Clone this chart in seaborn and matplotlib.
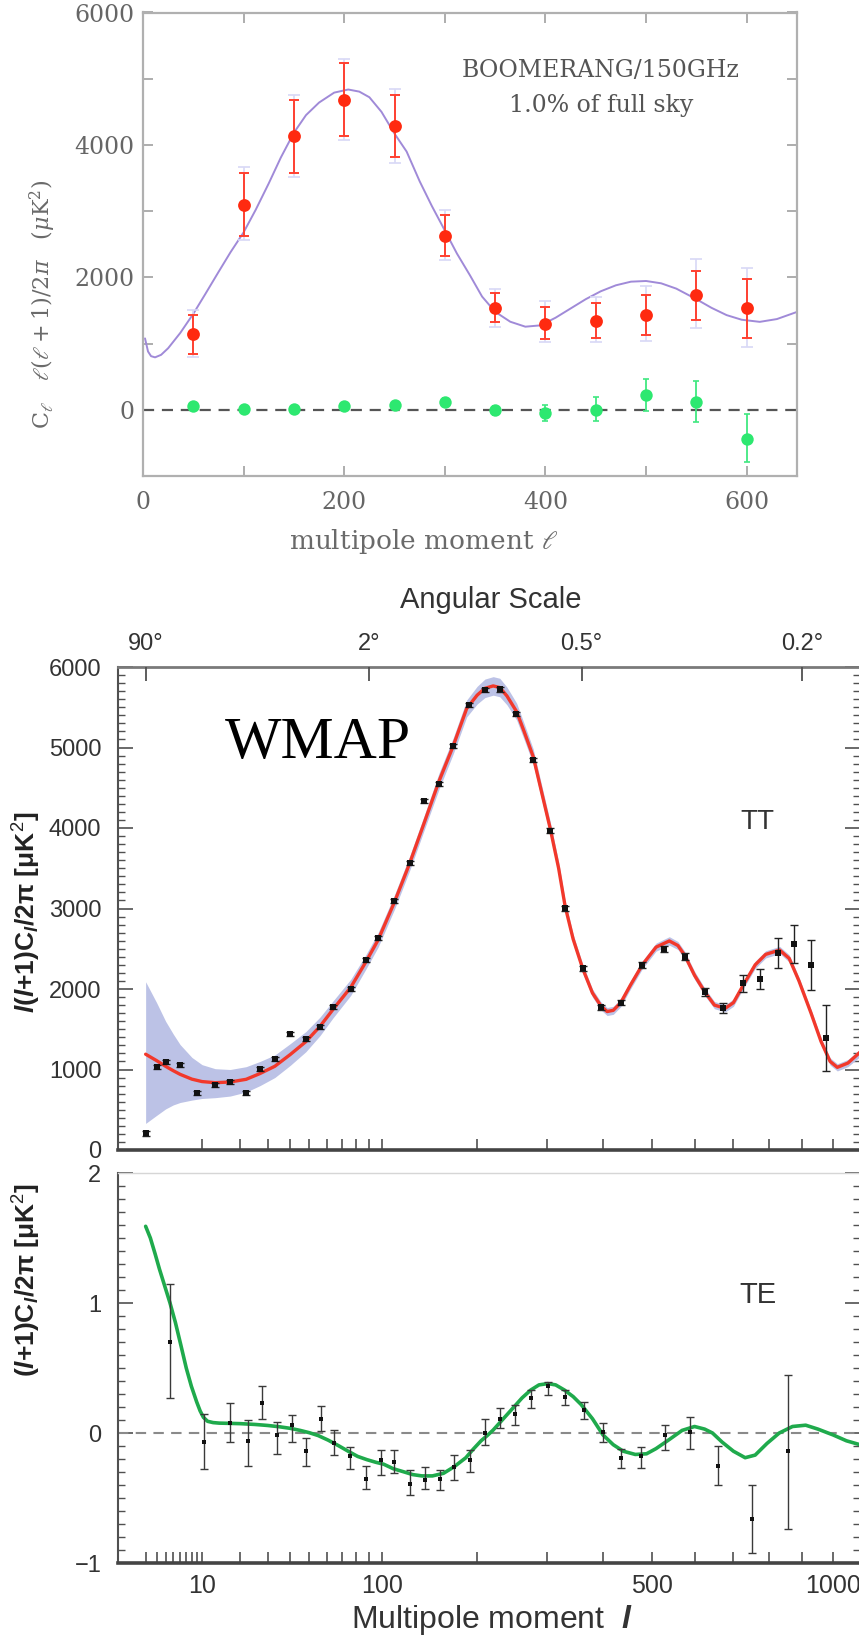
import numpy as np
import matplotlib
matplotlib.use("Agg")
import matplotlib.pyplot as plt
import seaborn as sns
from matplotlib.ticker import FixedLocator, NullFormatter, FixedFormatter

# ---------------- data: BOOMERANG panel ----------------
boom_l = [50, 100, 150, 200, 250, 300, 350, 400, 450, 500, 550, 600]
boom_tt = [1140, 3100, 4140, 4680, 4290, 2630, 1540, 1300, 1340, 1430, 1740, 1530]
boom_tt_lo = [840, 2620, 3570, 4135, 3820, 2320, 1330, 1070, 1080, 1130, 1350, 1080]
boom_tt_hi = [1430, 3580, 4680, 5230, 4750, 2940, 1770, 1550, 1610, 1740, 2100, 1970]
boom_tt_lo2 = [800, 2560, 3520, 4070, 3720, 2256, 1253, 1027, 1027, 1042, 1228, 952]
boom_tt_hi2 = [1500, 3660, 4760, 5300, 4840, 3020, 1830, 1640, 1700, 1865, 2270, 2135]
boom_ee = [60, 10, 10, 60, 70, 125, -10, -50, -10, 225, 125, -440]
boom_ee_lo = [10, -30, -30, 20, 20, 70, -80, -175, -175, -25, -190, -790]
boom_ee_hi = [110, 50, 50, 100, 120, 180, 60, 75, 190, 460, 440, -60]
boom_model_l = [2, 5, 8, 12, 18, 25, 37, 50, 62, 75, 87, 100, 112, 125, 137, 150, 162, 175, 190,
                204, 215, 225, 237, 250, 262, 275, 287, 300, 312, 325, 337, 350, 365, 380, 395,
                410, 425, 440, 455, 470, 485, 500, 515, 530, 550, 565, 580, 595, 613, 630, 650]
boom_model_v = [1078, 880, 810, 792, 830, 930, 1160, 1450, 1750, 2080, 2380, 2680, 3020, 3420,
                3810, 4185, 4450, 4640, 4790, 4837, 4805, 4720, 4500, 4170, 3900, 3450, 3080,
                2707, 2360, 2030, 1710, 1480, 1330, 1255, 1275, 1390, 1530, 1670, 1790, 1880,
                1935, 1945, 1910, 1830, 1670, 1540, 1430, 1360, 1328, 1370, 1478]

# ---------------- data: WMAP TT panel ----------------
tt_model_l = [2, 3, 4, 5, 6, 8, 10, 13, 17, 22, 27, 33, 40, 48, 56, 64, 76, 87, 97, 111, 125, 139,
              155, 171, 187, 200, 210, 221, 230, 240, 254, 265, 279, 292, 306, 320, 331, 345, 362,
              380, 396, 408, 420, 435, 455, 480, 510, 540, 560, 576, 600, 625, 650, 678, 700, 727,
              760, 790, 831, 860, 890, 928, 960, 990, 1014, 1050, 1092]
tt_model_v = [1190, 1110, 1040, 985, 940, 880, 850, 836, 845, 878, 950, 1040, 1185, 1345, 1535,
              1745, 2020, 2330, 2610, 3080, 3560, 4050, 4580, 5020, 5485, 5650, 5735, 5765, 5745,
              5640, 5445, 5200, 4885, 4450, 3995, 3500, 3030, 2620, 2255, 1950, 1790, 1720, 1735,
              1830, 2050, 2300, 2520, 2597, 2540, 2420, 2170, 1967, 1800, 1760, 1830, 2050, 2300,
              2430, 2484, 2380, 2100, 1700, 1350, 1100, 1027, 1080, 1215]
band_lo = [330, 430, 510, 560, 590, 620, 640, 650, 670, 720, 800, 900, 1050, 1220, 1420, 1640,
           1920, 2240, 2520, 2990, 3470, 3960, 4480, 4920, 5380, 5540, 5620, 5650, 5630, 5530,
           5340, 5100, 4790, 4360, 3910, 3420, 2960, 2560, 2200, 1900, 1740, 1670, 1685, 1780,
           2000, 2250, 2470, 2545, 2490, 2370, 2120, 1920, 1755, 1715, 1785, 2005, 2255, 2385,
           2440, 2335, 2055, 1655, 1305, 1055, 982, 1035, 1160]
band_hi = [2090, 1830, 1600, 1440, 1310, 1150, 1060, 1010, 1000, 1035, 1100, 1180, 1320, 1470,
           1650, 1850, 2120, 2420, 2700, 3170, 3650, 4140, 4680, 5120, 5590, 5760, 5850, 5880,
           5860, 5750, 5550, 5300, 4980, 4540, 4080, 3580, 3100, 2680, 2310, 2000, 1840, 1770,
           1785, 1880, 2100, 2350, 2570, 2650, 2590, 2470, 2220, 2015, 1845, 1805, 1875, 2095,
           2345, 2475, 2530, 2425, 2145, 1745, 1395, 1145, 1072, 1125, 1250]
tt_l = [2, 3, 4, 6, 9, 13, 17, 22, 27, 33, 40, 48, 56, 64, 76, 87, 97, 111, 125, 139, 155, 171,
        190, 210, 230, 253, 278, 305, 331, 362, 396, 435, 480, 527, 576, 625, 673, 727, 774, 826,
        876, 928, 977]
tt_v = [207, 1035, 1097, 1056, 712, 807, 849, 704, 1002, 1126, 1441, 1375, 1532, 1780, 1996, 2360,
        2630, 3097, 3561, 4339, 4547, 5023, 5528, 5714, 5723, 5416, 4845, 3967, 3002, 2257, 1772,
        1830, 2298, 2493, 2401, 1967, 1760, 2071, 2120, 2443, 2559, 2298, 1387]
tt_err = [30, 25, 25, 25, 25, 25, 25, 25, 25, 25, 25, 25, 25, 25, 25, 25, 25, 25, 25, 25, 25, 25,
          30, 30, 30, 30, 30, 30, 30, 30, 30, 30, 35, 35, 40, 50, 60, 105, 125, 185, 235, 310, 410]

# ---------------- data: WMAP TE panel ----------------
te_model_l = [2, 2.4, 2.84, 3.3, 3.9, 4.56, 5.3, 6.1, 7.0, 7.9, 8.9, 9.6, 10.3, 11.2, 12.5, 14,
              17, 20, 25, 30, 35, 40, 45, 50, 55, 61, 68, 75, 81, 88, 95, 101.6, 110, 120, 128,
              137, 148, 160, 172, 186, 195, 205, 213, 221, 235, 250, 262, 275, 288, 302, 315,
              330, 345, 359, 380, 400, 420, 440, 465, 489, 510, 540, 570, 600, 625, 645, 670,
              700, 732, 760, 794, 830, 870, 911, 950, 1000, 1045, 1092]
te_model_v = [1.59, 1.50, 1.38, 1.26, 1.13, 1.0, 0.85, 0.68, 0.50, 0.36, 0.24, 0.17, 0.12, 0.09,
              0.08, 0.076, 0.074, 0.072, 0.066, 0.058, 0.048, 0.036, 0.02, 0.002, -0.02, -0.055,
              -0.10, -0.145, -0.18, -0.205, -0.225, -0.24, -0.275, -0.30, -0.32, -0.33, -0.33,
              -0.31, -0.26, -0.19, -0.125, -0.06, -0.02, 0.023, 0.11, 0.2, 0.27, 0.33, 0.37,
              0.38, 0.37, 0.33, 0.28, 0.22, 0.11, -0.015, -0.09, -0.14, -0.165, -0.16, -0.12,
              -0.05, 0.02, 0.05, 0.03, 0.0, -0.07, -0.14, -0.19, -0.17, -0.08, 0.0, 0.05, 0.06,
              0.03, -0.015, -0.06, -0.09]
te_l = [4.5, 10.4, 17, 22.5, 27.7, 33.8, 40.7, 48, 56.4, 64.8, 75.2, 87, 99.3, 111, 125.3, 140,
        155.6, 171.6, 191, 210, 230, 252, 276, 302, 330, 364, 400, 435, 477, 530, 588, 659, 752,
        855]
te_v = [0.70, -0.07, 0.075, -0.06, 0.23, -0.015, 0.06, -0.14, 0.11, -0.08, -0.18, -0.35, -0.21,
        -0.22, -0.39, -0.36, -0.35, -0.26, -0.21, 0.0, 0.11, 0.15, 0.27, 0.36, 0.28, 0.18, 0.01,
        -0.195, -0.18, -0.015, 0.01, -0.25, -0.66, -0.14]
te_lo = [0.27, -0.28, -0.07, -0.25, 0.105, -0.16, -0.067, -0.25, 0.018, -0.17, -0.28, -0.43,
         -0.32, -0.305, -0.48, -0.43, -0.44, -0.36, -0.30, -0.09, 0.036, 0.06, 0.19, 0.29, 0.215,
         0.11, -0.07, -0.27, -0.27, -0.13, -0.12, -0.40, -0.925, -0.74]
te_hi = [1.15, 0.15, 0.23, 0.10, 0.36, 0.087, 0.14, -0.04, 0.21, 0.023, -0.105, -0.25, -0.13,
         -0.13, -0.285, -0.26, -0.285, -0.17, -0.13, 0.11, 0.19, 0.215, 0.33, 0.39, 0.33, 0.24,
         0.08, -0.12, -0.105, 0.06, 0.12, -0.10, -0.40, 0.45]

ang_l = [2, 90, 360, 900]
ang_labels = ["90°", "2°", "0.5°", "0.2°"]

# ---------------- style ----------------
sns.set_theme(style="ticks")
plt.rcParams['font.family'] = ['Liberation Sans', 'DejaVu Sans']
plt.rcParams['mathtext.fontset'] = 'custom'
plt.rcParams['mathtext.rm'] = 'Liberation Sans'
plt.rcParams['mathtext.it'] = 'Liberation Sans:italic:bold'
plt.rcParams['mathtext.bf'] = 'Liberation Sans:bold'
plt.rcParams['axes.unicode_minus'] = True

W, H = 859, 1641
fig = plt.figure(figsize=(W / 100, H / 100), dpi=100)
fig.patch.set_facecolor('white')


def rect(x0, y0, x1, y1):
    return [x0 / W, 1 - y1 / H, (x1 - x0) / W, (y1 - y0) / H]


def arr(a):
    return np.asarray(a, dtype=float)


# ================= BOOMERANG =================
axB = fig.add_axes(rect(143, 12.5, 797, 476))
sns.lineplot(x=boom_model_l, y=boom_model_v, ax=axB, color='#a08ad8', lw=1.4,
             sort=False, estimator=None, zorder=2)
axB.axhline(0, color='#555555', lw=1.6, ls=(0, (5, 3.5)), zorder=1)
bt = arr(boom_tt)
axB.errorbar(boom_l, bt, yerr=[bt - arr(boom_tt_lo2), arr(boom_tt_hi2) - bt], fmt='none',
             ecolor='#d8d8f6', elinewidth=1.2, capsize=4, capthick=1.2, zorder=3)
axB.errorbar(boom_l, bt, yerr=[bt - arr(boom_tt_lo), arr(boom_tt_hi) - bt], fmt='none',
             ecolor='#ff4030', elinewidth=1.4, capsize=3.5, capthick=1.4, zorder=4)
sns.scatterplot(x=boom_l, y=boom_tt, ax=axB, color='#ff2a10', s=85, linewidth=0, zorder=5)
be = arr(boom_ee)
axB.errorbar(boom_l, be, yerr=[be - arr(boom_ee_lo), arr(boom_ee_hi) - be], fmt='none',
             ecolor='#40e880', elinewidth=1.3, capsize=2.5, capthick=1.2, zorder=4)
sns.scatterplot(x=boom_l, y=boom_ee, ax=axB, color='#2de870', s=80, linewidth=0, zorder=5,
                marker='o')
axB.set_xlim(0, 650)
axB.set_ylim(-1000, 6000)
axB.xaxis.set_major_locator(FixedLocator([0, 200, 400, 600]))
axB.xaxis.set_minor_locator(FixedLocator([100, 300, 500]))
axB.yaxis.set_major_locator(FixedLocator([0, 2000, 4000, 6000]))
axB.yaxis.set_minor_locator(FixedLocator([-1000, 1000, 3000, 5000]))
axB.tick_params(which='both', direction='in', length=7, width=1.2, color='#a0a0a0',
                top=True, right=True, labelsize=17, labelcolor='#666666',
                labelfontfamily='DejaVu Serif')
axB.tick_params(axis='x', pad=11)
axB.tick_params(axis='y', pad=6)
for s in axB.spines.values():
    s.set_color('#b0b0b0')
    s.set_linewidth(1.6)
axB.set_xlabel('')
axB.set_ylabel('')
axB.text(455, 5120, 'BOOMERANG/150GHz', ha='center', va='center', fontsize=17,
         family='DejaVu Serif', color='#555555')
axB.text(455, 4600, '1.0% of full sky', ha='center', va='center', fontsize=17,
         family='DejaVu Serif', color='#555555')
fig.text(43 / W, 1 - 304 / H, r'C$_\ell$   $\ell(\ell+1)/2\pi$   ($\mu$K$^2$)', rotation=90,
         ha='center', va='center', fontsize=16, family='DejaVu Serif', color='#6a6a6a',
         math_fontfamily='dejavuserif')
fig.text(424 / W, 1 - 541 / H, r'multipole moment $\ell$', ha='center', va='center',
         fontsize=19, family='DejaVu Serif', color='#6a6a6a', math_fontfamily='dejavuserif')


# ================= WMAP =================
def fwd(x):
    return np.power(np.maximum(np.asarray(x, dtype=float), 0.0), 0.4)


def inv(y):
    return np.power(np.maximum(np.asarray(y, dtype=float), 0.0), 2.5)


XL = (0.464, 1092)
dark = '#505050'
tick_minor_x = [20, 30, 40, 50, 60, 70, 80, 90, 200, 300, 400, 600, 700, 800, 900]

# ---- TT ----
axT = fig.add_axes(rect(118, 667, 860, 1150))
axT.set_xscale('function', functions=(fwd, inv))
axT.fill_between(tt_model_l, band_lo, band_hi, color='#bcc2e6', lw=0, zorder=1)
sns.lineplot(x=tt_model_l, y=tt_model_v, ax=axT, color='#f2382b', lw=2.4, sort=False,
             estimator=None, zorder=3)
tv = arr(tt_v)
axT.errorbar(tt_l, tv, yerr=arr(tt_err), fmt='none', ecolor='#222222', elinewidth=1.0,
             capsize=3, capthick=1.0, zorder=4)
sns.scatterplot(x=tt_l, y=tt_v, ax=axT, color='#111111', s=14, marker='s', linewidth=0,
                zorder=5)
axT.set_xlim(*XL)
axT.set_ylim(0, 6000)
axT.xaxis.set_major_locator(FixedLocator([10, 20, 30, 40, 50, 60, 70, 80, 90, 100, 200, 300,
                                          400, 500, 600, 700, 800, 900, 1000]))
axT.xaxis.set_major_formatter(NullFormatter())
axT.xaxis.set_minor_locator(FixedLocator([]))
axT.yaxis.set_major_locator(FixedLocator([0, 1000, 2000, 3000, 4000, 5000, 6000]))
axT.yaxis.set_minor_locator(FixedLocator(np.arange(0, 6001, 100)))
axT.tick_params(axis='x', which='major', direction='in', length=8, width=1.2, color=dark,
                top=False, bottom=True)
axT.tick_params(axis='y', which='major', direction='in', length=11, width=1.2, color=dark,
                left=True, right=True, labelsize=17, labelcolor='#333333', pad=12)
axT.tick_params(axis='y', which='minor', direction='in', length=5, width=1.0, color=dark,
                left=True, right=True)
axT.spines['left'].set_color(dark)
axT.spines['left'].set_linewidth(1.5)
axT.spines['bottom'].set_color('#444444')
axT.spines['bottom'].set_linewidth(2.6)
axT.spines['top'].set_color('#7a7a7a')
axT.spines['top'].set_linewidth(2.0)
axT.spines['right'].set_color(dark)
axT.set_xlabel('')
axT.set_ylabel('')

axA = axT.twiny()
axA.set_xscale('function', functions=(fwd, inv))
axA.set_xlim(*XL)
axA.xaxis.set_major_locator(FixedLocator(ang_l))
axA.xaxis.set_major_formatter(FixedFormatter(ang_labels))
axA.xaxis.set_minor_locator(FixedLocator([]))
axA.tick_params(axis='x', which='major', direction='in', length=10, width=1.3, color=dark,
                top=True, bottom=False, labeltop=True, labelbottom=False, labelsize=17,
                labelcolor='#333333', pad=9)
for s in axA.spines.values():
    s.set_visible(False)

fig.text(491 / W, 1 - 600 / H, 'Angular Scale', ha='center', va='center', fontsize=21,
         color='#333333')
fig.text(225 / W, 1 - 758 / H, 'WMAP', ha='left', va='baseline', fontsize=43,
         family='Liberation Serif', color='black')
fig.text(757 / W, 1 - 822 / H, 'TT', ha='center', va='center', fontsize=20, color='#333333')
fig.text(27 / W, 1 - 912 / H, r'$\mathit{l}$($\mathit{l}$+1)C$_{\mathit{l}}$/2π [μK$^2$]',
         rotation=90, ha='center', va='center', fontsize=19, color='#222222',
         fontweight='bold', math_fontfamily='custom')

# ---- TE ----
axE = fig.add_axes(rect(118, 1173, 860, 1563))
axE.set_xscale('function', functions=(fwd, inv))
axE.axhline(0, color='#8a8a8a', lw=1.5, ls=(0, (5, 3.5)), zorder=1)
sns.lineplot(x=te_model_l, y=te_model_v, ax=axE, color='#1faa4c', lw=2.6, sort=False,
             estimator=None, zorder=3)
ev = arr(te_v)
axE.errorbar(te_l, ev, yerr=[ev - arr(te_lo), arr(te_hi) - ev], fmt='none', ecolor='#3a3a3a',
             elinewidth=1.0, capsize=3, capthick=1.0, zorder=4)
sns.scatterplot(x=te_l, y=te_v, ax=axE, color='#111111', s=10, marker='s', linewidth=0,
                zorder=5)
axE.set_xlim(*XL)
axE.set_ylim(-1, 2)
axE.xaxis.set_major_locator(FixedLocator([10, 100, 500, 1000]))
axE.xaxis.set_major_formatter(FixedFormatter(['10', '100', '500', '1000']))
axE.xaxis.set_minor_locator(FixedLocator([2, 3, 4, 5, 6, 7, 8, 9] + tick_minor_x))
axE.yaxis.set_major_locator(FixedLocator([-1, 0, 1, 2]))
axE.yaxis.set_major_formatter(FixedFormatter(['\u22121', '0', '1', '2']))
axE.yaxis.set_minor_locator(FixedLocator(np.round(np.arange(-1, 2.001, 0.1), 2)))
axE.tick_params(axis='x', which='both', direction='in', length=8, width=1.2, color=dark,
                top=False, bottom=True, labelsize=18, labelcolor='#333333', pad=8)
axE.tick_params(axis='y', which='major', direction='in', length=11, width=1.2, color=dark,
                left=True, right=True, labelsize=17, labelcolor='#333333', pad=12)
axE.tick_params(axis='y', which='minor', direction='in', length=5, width=1.0, color=dark,
                left=True, right=True)
axE.spines['left'].set_color(dark)
axE.spines['left'].set_linewidth(1.5)
axE.spines['bottom'].set_color('#444444')
axE.spines['bottom'].set_linewidth(2.6)
axE.spines['top'].set_color('#d6d6d6')
axE.spines['top'].set_linewidth(1.0)
axE.spines['right'].set_color(dark)
axE.set_xlabel('')
axE.set_ylabel('')
fig.text(758 / W, 1 - 1295 / H, 'TE', ha='center', va='center', fontsize=21, color='#333333')
fig.text(27 / W, 1 - 1280 / H, r'($\mathit{l}$+1)C$_{\mathit{l}}$/2π [μK$^2$]',
         rotation=90, ha='center', va='center', fontsize=19, color='#222222',
         fontweight='bold', math_fontfamily='custom')
fig.text(492 / W, 1 - 1620 / H, r'Multipole moment  $\mathit{l}$', ha='center', va='center',
         fontsize=23, color='#333333', math_fontfamily='custom')

fig.savefig('out.png', dpi=100, facecolor='white')
